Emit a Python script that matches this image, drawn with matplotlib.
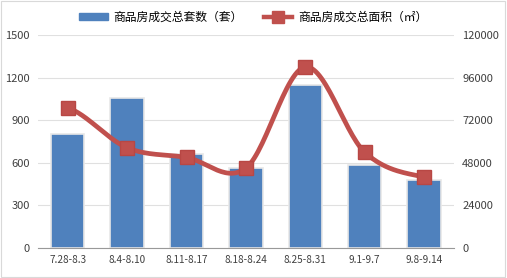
import numpy as np
import matplotlib
matplotlib.use("Agg")
import matplotlib.pyplot as plt
from matplotlib.patches import Rectangle
from matplotlib.lines import Line2D
from matplotlib.patches import Patch

plt.rcParams['font.family'] = ['Noto Sans CJK SC', 'DejaVu Sans']

categories = ["7.28-8.3", "8.4-8.10", "8.11-8.17", "8.18-8.24", "8.25-8.31", "9.1-9.7", "9.8-9.14"]
units = [800, 1055, 665, 560, 1145, 585, 478]
area = [79000, 56500, 51000, 45000, 102000, 54000, 40000]
left_ticks = [0, 300, 600, 900, 1200, 1500]
right_ticks = [0, 24000, 48000, 72000, 96000, 120000]

bar_color = "#4F81BD"
line_color = "#C0504D"

fig = plt.figure(figsize=(5.07, 2.78), dpi=100)
ax = fig.add_axes([0.075, 0.108, 0.82, 0.766])
ax2 = ax.twinx()

x = np.arange(len(categories))
ax.bar(x, units, width=0.56, color=bar_color, edgecolor="#E8E8E8", linewidth=1.2, zorder=2)
ax.set_ylim(0, 1500)
ax.set_xlim(-0.5, len(categories) - 0.5)
ax.set_yticks(left_ticks)
ax.set_xticks(x)
ax.set_xticklabels(categories)
ax.grid(axis='y', color="#E0E0E0", linewidth=0.8, zorder=0)
ax.set_axisbelow(True)

# smooth curve (Catmull-Rom) through data points
def catmull(xs, ys, n=30):
    px = np.concatenate([[2*xs[0]-xs[1]], xs, [2*xs[-1]-xs[-2]]])
    py = np.concatenate([[ys[0]], ys, [ys[-1]]])
    outx, outy = [], []
    for i in range(1, len(px) - 2):
        t = np.linspace(0, 1, n)
        for arr, out in ((px, outx), (py, outy)):
            p0, p1, p2, p3 = arr[i-1], arr[i], arr[i+1], arr[i+2]
            out.extend(0.5 * ((2*p1) + (-p0 + p2)*t + (2*p0 - 5*p1 + 4*p2 - p3)*t**2 + (-p0 + 3*p1 - 3*p2 + p3)*t**3))
    return np.array(outx), np.array(outy)

sx, sy = catmull(x.astype(float), np.array(area, dtype=float))
ax2.plot(sx, sy, color=line_color, linewidth=3.4, solid_capstyle='round', zorder=3)
ax2.plot(x, area, linestyle='none', marker='s', markersize=10, color=line_color,
         markeredgecolor="#B84744", zorder=4)
ax2.set_ylim(0, 120000)
ax2.set_yticks(right_ticks)

for a in (ax, ax2):
    for s in a.spines.values():
        s.set_visible(False)
    a.tick_params(length=0, labelsize=8, colors="#404040")
ax.spines['bottom'].set_visible(True)
ax.spines['bottom'].set_color("#999999")
ax.tick_params(axis='x', pad=5, labelsize=7.2)
ax.tick_params(axis='y', pad=6)
ax2.tick_params(axis='y', pad=6)

handles = [Patch(color=bar_color, label="商品房成交总套数（套）"),
           Line2D([0], [0], color=line_color, linewidth=3.2, marker='s', markersize=8,
                  label="商品房成交总面积（㎡）")]
fig.legend(handles=handles, loc='upper center', bbox_to_anchor=(0.5, 1.0), ncol=2,
           frameon=False, fontsize=8.5, handlelength=2.4, handletextpad=0.5,
           columnspacing=1.8, handleheight=0.6)

fig.patches.append(Rectangle((0.002, 0.004), 0.994, 0.992, transform=fig.transFigure,
                             fill=False, edgecolor="#D9D9D9", linewidth=0.8))

fig.savefig("out.png", dpi=100)
